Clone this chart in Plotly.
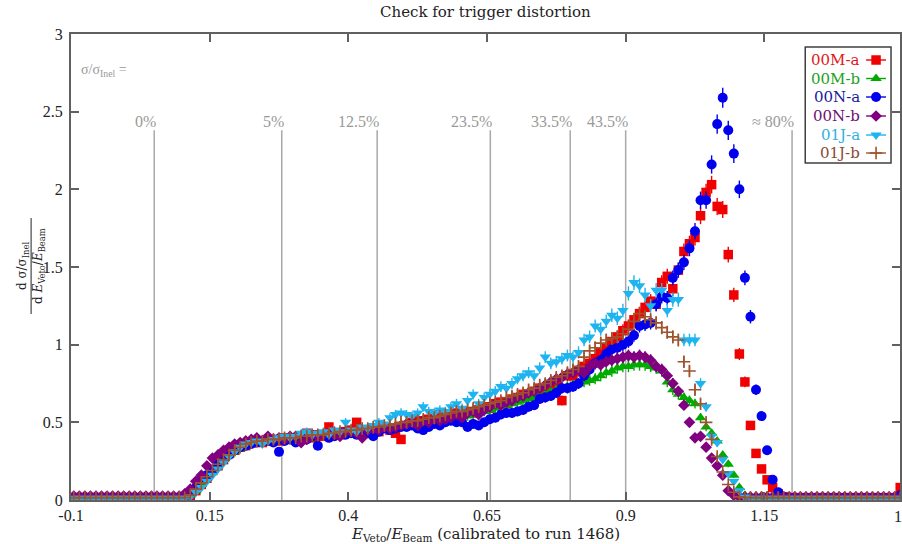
import numpy as np
import plotly.graph_objects as go

# ---- binning of E_Veto / E_Beam ------------------------------------------
BIN_LO = -0.1
BIN_WIDTH = 0.01
N_BINS = 150
x_centers = np.round(BIN_LO + BIN_WIDTH * (np.arange(N_BINS) + 0.5), 4)

# ---- normalised spectra, one value per bin --------------------------------
run_00M_a = [
    0.015, 0.015, 0.015, 0.015, 0.015, 0.015, 0.015, 0.015, 0.015, 0.015,
    0.015, 0.015, 0.015, 0.015, 0.015, 0.015, 0.015, 0.015, 0.015, 0.015,
    0.015, 0.03, 0.06, 0.10, 0.14, 0.19, 0.22, 0.26, 0.30, 0.32,
    0.34, 0.35, 0.37, 0.38, 0.37, 0.38, 0.39, 0.38, 0.40, 0.39,
    0.40, 0.41, 0.43, 0.40, 0.42, 0.41, 0.47, 0.42, 0.42, 0.44,
    0.45, 0.50, 0.44, 0.45, 0.46, 0.44, 0.47, 0.45, 0.43, 0.39,
    0.48, 0.50, 0.51, 0.49, 0.52, 0.53, 0.55, 0.52, 0.54, 0.56,
    0.55, 0.57, 0.56, 0.58, 0.60, 0.59, 0.62, 0.63, 0.62, 0.65,
    0.66, 0.68, 0.67, 0.70, 0.72, 0.71, 0.74, 0.76, 0.64, 0.80,
    0.80, 0.83, 0.86, 0.88, 0.91, 0.95, 0.98, 1.02, 1.05, 1.09,
    1.12, 1.16, 1.20, 1.24, 1.28, 1.26, 1.40, 1.44, 1.36, 1.48,
    1.60, 1.65, 1.69, 1.83, 1.98, 2.03, 1.89, 1.87, 1.58, 1.32,
    0.94, 0.76, 0.48, 0.30, 0.20, 0.13, 0.08, 0.04, 0.02, 0.015,
    0.015, 0.015, 0.015, 0.015, 0.015, 0.015, 0.015, 0.015, 0.015, 0.015,
    0.015, 0.015, 0.015, 0.015, 0.015, 0.015, 0.015, 0.015, 0.015, 0.08,
]
run_00M_b = [
    0.015, 0.015, 0.015, 0.015, 0.015, 0.015, 0.015, 0.015, 0.015, 0.015,
    0.015, 0.015, 0.015, 0.015, 0.015, 0.015, 0.015, 0.015, 0.015, 0.015,
    0.015, 0.03, 0.06, 0.10, 0.14, 0.18, 0.22, 0.26, 0.29, 0.31,
    0.33, 0.35, 0.36, 0.37, 0.37, 0.38, 0.38, 0.38, 0.39, 0.39,
    0.39, 0.40, 0.40, 0.40, 0.41, 0.41, 0.41, 0.42, 0.42, 0.43,
    0.43, 0.43, 0.44, 0.44, 0.45, 0.45, 0.46, 0.46, 0.47, 0.47,
    0.48, 0.48, 0.49, 0.49, 0.50, 0.51, 0.51, 0.52, 0.52, 0.53,
    0.54, 0.54, 0.55, 0.56, 0.57, 0.58, 0.59, 0.60, 0.61, 0.62,
    0.63, 0.64, 0.65, 0.66, 0.67, 0.68, 0.70, 0.71, 0.72, 0.73,
    0.74, 0.75, 0.76, 0.77, 0.78, 0.80, 0.82, 0.83, 0.85, 0.86,
    0.86, 0.87, 0.87, 0.87, 0.86, 0.85, 0.83, 0.76, 0.71, 0.68,
    0.66, 0.64, 0.62, 0.53, 0.47, 0.43, 0.38, 0.29, 0.23, 0.16,
    0.08, 0.03, 0.015, 0.015, 0.015, 0.015, 0.015, 0.015, 0.015, 0.015,
    0.015, 0.015, 0.015, 0.015, 0.015, 0.015, 0.015, 0.015, 0.015, 0.015,
    0.015, 0.015, 0.015, 0.015, 0.015, 0.015, 0.015, 0.015, 0.015, 0.015,
]
run_00N_a = [
    0.015, 0.015, 0.015, 0.015, 0.015, 0.015, 0.015, 0.015, 0.015, 0.015,
    0.015, 0.015, 0.015, 0.015, 0.015, 0.015, 0.015, 0.015, 0.015, 0.015,
    0.015, 0.04, 0.08, 0.14, 0.16, 0.19, 0.23, 0.26, 0.29, 0.32,
    0.34, 0.35, 0.36, 0.37, 0.38, 0.38, 0.37, 0.31, 0.38, 0.39,
    0.37, 0.40, 0.39, 0.41, 0.35, 0.42, 0.40, 0.41, 0.43, 0.42,
    0.43, 0.42, 0.44, 0.43, 0.41, 0.44, 0.46, 0.45, 0.46, 0.47,
    0.47, 0.48, 0.46, 0.45, 0.47, 0.49, 0.48, 0.50, 0.51, 0.50,
    0.50, 0.47, 0.49, 0.48, 0.50, 0.52, 0.53, 0.55, 0.56, 0.56,
    0.57, 0.58, 0.60, 0.61, 0.65, 0.66, 0.67, 0.69, 0.72, 0.72,
    0.73, 0.75, 0.80, 0.84, 0.88, 0.90, 0.94, 0.97, 0.98, 1.00,
    1.02, 1.06, 1.12, 1.13, 1.14, 1.26, 1.31, 1.30, 1.43, 1.48,
    1.53, 1.62, 1.73, 1.93, 1.93, 2.16, 2.42, 2.59, 2.38, 2.23,
    2.00, 1.43, 1.18, 0.71, 0.54, 0.32, 0.13, 0.05, 0.02, 0.015,
    0.015, 0.015, 0.015, 0.015, 0.015, 0.015, 0.015, 0.015, 0.015, 0.015,
    0.015, 0.015, 0.015, 0.015, 0.015, 0.015, 0.015, 0.015, 0.015, 0.03,
]
run_00N_b = [
    0.025, 0.025, 0.025, 0.025, 0.025, 0.025, 0.025, 0.025, 0.025, 0.025,
    0.025, 0.025, 0.025, 0.025, 0.025, 0.025, 0.025, 0.025, 0.025, 0.025,
    0.04, 0.07, 0.12, 0.16, 0.22, 0.27, 0.29, 0.32, 0.34, 0.36,
    0.37, 0.38, 0.39, 0.40, 0.38, 0.41, 0.39, 0.40, 0.39, 0.41,
    0.41, 0.37, 0.39, 0.42, 0.41, 0.42, 0.43, 0.42, 0.41, 0.44,
    0.44, 0.43, 0.40, 0.45, 0.46, 0.45, 0.47, 0.46, 0.47, 0.48,
    0.49, 0.50, 0.48, 0.51, 0.50, 0.52, 0.51, 0.52, 0.53, 0.55,
    0.53, 0.56, 0.57, 0.55, 0.58, 0.60, 0.62, 0.61, 0.63, 0.64,
    0.66, 0.67, 0.69, 0.70, 0.72, 0.74, 0.76, 0.78, 0.79, 0.81,
    0.82, 0.84, 0.82, 0.86, 0.88, 0.87, 0.89, 0.90, 0.91, 0.92,
    0.93, 0.92, 0.93, 0.92, 0.90, 0.86, 0.84, 0.80, 0.75, 0.70,
    0.61, 0.50, 0.40, 0.41, 0.34, 0.27, 0.22, 0.16, 0.06, 0.03,
    0.02, 0.02, 0.02, 0.02, 0.02, 0.02, 0.02, 0.02, 0.02, 0.02,
    0.02, 0.02, 0.02, 0.02, 0.02, 0.02, 0.02, 0.02, 0.02, 0.02,
    0.02, 0.02, 0.02, 0.02, 0.02, 0.02, 0.02, 0.02, 0.02, 0.02,
]
run_01J_a = [
    0.012, 0.012, 0.012, 0.012, 0.012, 0.012, 0.012, 0.012, 0.012, 0.012,
    0.012, 0.012, 0.012, 0.012, 0.012, 0.012, 0.012, 0.012, 0.012, 0.012,
    0.012, 0.02, 0.05, 0.08, 0.12, 0.16, 0.20, 0.24, 0.28, 0.31,
    0.34, 0.36, 0.37, 0.38, 0.36, 0.38, 0.39, 0.40, 0.41, 0.40,
    0.41, 0.43, 0.44, 0.42, 0.43, 0.44, 0.42, 0.45, 0.44, 0.50,
    0.45, 0.44, 0.47, 0.46, 0.48, 0.50, 0.49, 0.53, 0.55, 0.56,
    0.55, 0.54, 0.56, 0.60, 0.57, 0.56, 0.58, 0.57, 0.60, 0.62,
    0.59, 0.64, 0.68, 0.62, 0.66, 0.68, 0.70, 0.73, 0.72, 0.75,
    0.78, 0.80, 0.82, 0.80, 0.85, 0.92, 0.88, 0.89, 0.91, 0.93,
    0.92, 0.95, 1.03, 1.05, 1.12, 1.10, 1.15, 1.19, 1.17, 1.22,
    1.33, 1.40, 1.38, 1.32, 1.25, 1.35, 1.35, 1.22, 1.29, 1.29,
    1.03, 1.03, 1.03, 0.75, 0.60, 0.41, 0.37, 0.26, 0.17, 0.12,
    0.06, 0.02, 0.012, 0.012, 0.012, 0.012, 0.012, 0.012, 0.012, 0.012,
    0.012, 0.012, 0.012, 0.012, 0.012, 0.012, 0.012, 0.012, 0.012, 0.012,
    0.012, 0.012, 0.012, 0.012, 0.012, 0.012, 0.012, 0.012, 0.012, 0.012,
]
run_01J_b = [
    0.015, 0.015, 0.015, 0.015, 0.015, 0.015, 0.015, 0.015, 0.015, 0.015,
    0.015, 0.015, 0.015, 0.015, 0.015, 0.015, 0.015, 0.015, 0.015, 0.015,
    0.015, 0.03, 0.07, 0.11, 0.15, 0.19, 0.23, 0.26, 0.29, 0.32,
    0.34, 0.36, 0.37, 0.38, 0.38, 0.39, 0.39, 0.39, 0.40, 0.40,
    0.40, 0.41, 0.41, 0.42, 0.42, 0.42, 0.43, 0.43, 0.44, 0.44,
    0.45, 0.45, 0.46, 0.46, 0.47, 0.47, 0.48, 0.48, 0.49, 0.50,
    0.50, 0.51, 0.51, 0.52, 0.53, 0.53, 0.54, 0.55, 0.56, 0.57,
    0.57, 0.58, 0.59, 0.60, 0.61, 0.62, 0.63, 0.64, 0.66, 0.67,
    0.68, 0.69, 0.71, 0.72, 0.74, 0.75, 0.77, 0.79, 0.80, 0.82,
    0.84, 0.86, 0.92, 0.96, 0.98, 1.01, 1.03, 1.04, 1.05, 1.07,
    1.10, 1.15, 1.20, 1.18, 1.16, 1.14, 1.11, 1.08, 1.05, 1.03,
    0.89, 0.83, 0.71, 0.62, 0.50, 0.39, 0.28, 0.18, 0.10, 0.05,
    0.02, 0.015, 0.015, 0.015, 0.015, 0.015, 0.015, 0.015, 0.015, 0.015,
    0.015, 0.015, 0.015, 0.015, 0.015, 0.015, 0.015, 0.015, 0.015, 0.015,
    0.015, 0.015, 0.015, 0.015, 0.015, 0.015, 0.015, 0.015, 0.015, 0.015,
]

# statistical uncertainty scale (error ~ k * sqrt(value))
STAT_K = 0.04

series_names = ["00M-a", "00M-b", "00N-a", "00N-b", "01J-a", "01J-b"]
series_values = [run_00M_a, run_00M_b, run_00N_a, run_00N_b, run_01J_a, run_01J_b]

# fraction of inelastic cross section kept by each veto cut
cut_positions = [0.05, 0.28, 0.452, 0.656, 0.80, 0.90, 1.20]
cut_labels = ["0%", "5%", "12.5%", "23.5%", "33.5%", "43.5%", "\u2248 80%"]
CUT_TOP = 2.38

x_tick_vals = [-0.1, 0.15, 0.4, 0.65, 0.9, 1.15]
x_tick_text = ["-0.1", "0.15", "0.4", "0.65", "0.9", "1.15"]
y_tick_vals = [0, 0.5, 1, 1.5, 2, 2.5, 3]
y_tick_text = ["0", "0.5", "1", "1.5", "2", "2.5", "3"]

# ---- styling ---------------------------------------------------------------
colors = ["#f00000", "#00aa00", "#0000ee", "#800080", "#1eb4f0", "#a0522d"]
text_colors = ["#e01818", "#22a022", "#1a1a9a", "#701070", "#30b0e0", "#8b4a30"]
symbols = ["square", "triangle-up", "circle", "diamond", "triangle-down", "cross-thin"]
sizes = [9.5, 10, 10, 9, 10, 9]
SERIF = "Liberation Serif, Times New Roman, serif"
WIDE_SERIF = "DejaVu Serif, serif"
AXIS_COLOR = "#606060"
CUT_COLOR = "#a8a8a8"
CUT_TEXT = "#999999"
INK = "#222222"

W, H = 902, 544
L, R, T, B = 71, 0, 34, 44
PX_PER_UNIT = 556.0
x_max = BIN_LO + (W - L - R) / PX_PER_UNIT


def paper_x(px):
    return (px - L) / (W - L - R)


def paper_y(py):
    return (H - B - py) / (H - T - B)


fig = go.Figure()

for name, vals, col, sym, sz in zip(series_names, series_values, colors, symbols, sizes):
    vals = np.asarray(vals, dtype=float)
    marker = dict(symbol=sym, size=sz, color=col)
    if sym == "cross-thin":
        marker["line"] = dict(color=col, width=1.6)
    else:
        marker["line"] = dict(width=0)
    fig.add_trace(go.Scatter(
        x=x_centers, y=vals, mode="markers", name=name, showlegend=False,
        marker=marker, cliponaxis=True,
        error_y=dict(type="data", array=STAT_K * np.sqrt(vals), color=col,
                     thickness=1.4, width=0, visible=True),
    ))

# veto-cut guide lines
for xc in cut_positions:
    fig.add_shape(type="line", x0=xc, x1=xc, y0=0, y1=CUT_TOP, xref="x", yref="y",
                  line=dict(color=CUT_COLOR, width=1.5), layer="below")
for xc, lab in zip(cut_positions, cut_labels):
    fig.add_annotation(x=xc, y=CUT_TOP, xref="x", yref="y", text=lab, showarrow=False,
                       xanchor="right", yanchor="bottom", xshift=4, yshift=-2,
                       font=dict(family=SERIF, size=16, color=CUT_TEXT))

# ---- hand-made legend (text left of symbol) on a pixel-space overlay axis ----
LEG_X0, LEG_X1, LEG_Y0, LEG_Y1 = 807, 893, 47, 163
leg_rows = [60, 78.5, 97, 116, 135, 153]
fig.add_shape(type="rect", xref="x2", yref="y2", x0=LEG_X0, x1=LEG_X1, y0=LEG_Y0, y1=LEG_Y1,
              line=dict(color="#404040", width=1.5), fillcolor="white", layer="below")
for name, col, tcol, sym, sz, yy in zip(series_names, colors, text_colors, symbols, sizes, leg_rows):
    marker = dict(symbol=sym, size=sz, color=col)
    if sym == "cross-thin":
        marker["line"] = dict(color=col, width=1.6)
    fig.add_trace(go.Scatter(
        x=[878], y=[yy], xaxis="x2", yaxis="y2", mode="markers", showlegend=False,
        marker=marker, hoverinfo="skip",
        error_x=dict(type="constant", value=10, color=col, thickness=1.4, width=0),
    ))
    fig.add_annotation(x=864, y=yy, xref="x2", yref="y2", text=name, showarrow=False,
                       xanchor="right", yanchor="middle",
                       font=dict(family=WIDE_SERIF, size=15, color=tcol))

# title
fig.add_annotation(x=paper_x(487), y=paper_y(12), xref="paper", yref="paper",
                   text="Check for trigger distortion", showarrow=False,
                   xanchor="center", yanchor="middle",
                   font=dict(family=WIDE_SERIF, size=15, color=INK))
# cross-section ratio note
fig.add_annotation(x=paper_x(79), y=paper_y(70), xref="paper", yref="paper",
                   text="\u03c3/\u03c3<sub>Inel</sub> =", showarrow=False,
                   xanchor="left", yanchor="middle",
                   font=dict(family=SERIF, size=14, color=CUT_TEXT))
# x axis title
fig.add_annotation(x=paper_x(487), y=paper_y(534), xref="paper", yref="paper",
                   text="<i>E</i><sub>Veto</sub>/<i>E</i><sub>Beam</sub> (calibrated to run 1468)",
                   showarrow=False, xanchor="center", yanchor="middle",
                   font=dict(family=WIDE_SERIF, size=15, color=INK))
# last x tick label sits on the clipped right edge
fig.add_annotation(x=paper_x(906), y=paper_y(516), xref="paper", yref="paper",
                   text="1.4", showarrow=False, xanchor="center", yanchor="middle",
                   font=dict(family=SERIF, size=16, color=INK))
# y axis title as a stacked fraction
fig.add_annotation(x=paper_x(23), y=paper_y(266), xref="paper", yref="paper",
                   text="d \u03c3/\u03c3<sub>Inel</sub>", textangle=-90, showarrow=False,
                   xanchor="center", yanchor="middle",
                   font=dict(family=WIDE_SERIF, size=12, color=INK))
fig.add_annotation(x=paper_x(39), y=paper_y(266), xref="paper", yref="paper",
                   text="d <i>E</i><sub>Veto</sub>/<i>E</i><sub>Beam</sub>", textangle=-90,
                   showarrow=False, xanchor="center", yanchor="middle",
                   font=dict(family=WIDE_SERIF, size=12, color=INK))
fig.add_shape(type="line", xref="paper", yref="paper",
              x0=paper_x(31), x1=paper_x(31), y0=paper_y(218), y1=paper_y(314),
              line=dict(color=INK, width=1))

axis_common = dict(showline=True, linecolor=AXIS_COLOR, linewidth=1.5, mirror="ticks",
                   ticks="inside", ticklen=8, tickwidth=1.5, tickcolor=AXIS_COLOR,
                   showgrid=False, zeroline=False,
                   tickfont=dict(family=SERIF, size=16, color=INK))

fig.update_layout(
    width=W, height=H,
    margin=dict(l=L, r=R, t=T, b=B, pad=0),
    paper_bgcolor="white", plot_bgcolor="white",
    showlegend=False,
    xaxis=dict(range=[BIN_LO, x_max], tickvals=x_tick_vals, ticktext=x_tick_text, **axis_common),
    yaxis=dict(range=[0, 3], tickvals=y_tick_vals,
               ticktext=[t + "\u2009" for t in y_tick_text], **axis_common),
    xaxis2=dict(overlaying="x", anchor="y2", range=[L, W - R], visible=False, fixedrange=True),
    yaxis2=dict(overlaying="y", anchor="x2", range=[H - B, T], visible=False, fixedrange=True),
)

fig.write_html("out.html", config={"displayModeBar": False})
